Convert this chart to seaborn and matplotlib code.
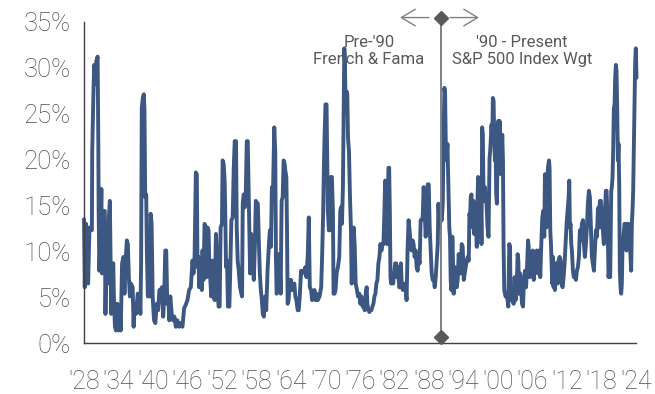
import matplotlib
matplotlib.use("Agg")
import matplotlib.pyplot as plt
import seaborn as sns
import pandas as pd

# ---- data ----
years_a = [1928.00, 1928.13, 1928.36, 1928.72, 1928.95, 1929.37, 1929.43, 1929.66, 1929.78, 1930.02,
           1930.14, 1930.37, 1930.49, 1930.55, 1930.67, 1930.84, 1931.02, 1931.14, 1931.26, 1931.43,
           1931.61, 1931.73, 1931.91, 1932.14, 1932.32, 1932.50, 1932.62, 1932.73, 1932.91, 1933.09,
           1933.20, 1933.38, 1933.56, 1933.80, 1933.97, 1934.21, 1934.39, 1934.62, 1934.86, 1935.04,
           1935.21, 1935.45, 1935.63, 1935.80, 1935.98, 1936.16, 1936.46, 1936.63, 1936.75, 1937.05,
           1937.34, 1937.64, 1937.81, 1937.93, 1938.05, 1938.23, 1938.40, 1938.52, 1938.64, 1938.82,
           1938.94, 1939.11, 1939.29, 1939.47, 1939.59, 1939.76, 1939.94, 1940.18, 1940.41, 1940.65,
           1940.89, 1941.12, 1941.36, 1941.54, 1941.77, 1941.95, 1942.13, 1942.30, 1942.48, 1942.66,
           1942.83, 1943.01, 1943.25, 1943.48, 1943.72, 1943.96, 1944.13]
values_a = [13.5, 6.1, 13.0, 6.5, 12.6, 12.3, 20.9, 27.8, 30.3, 28.2,
            30.7, 31.2, 21.7, 14.4, 7.9, 10.8, 16.8, 7.6, 10.8, 14.4,
            14.4, 3.2, 10.1, 6.5, 13.7, 15.5, 9.0, 3.2, 7.9, 8.7,
            5.1, 1.8, 1.4, 4.3, 1.4, 3.6, 1.4, 8.7, 9.4, 5.4,
            8.7, 11.2, 10.8, 7.2, 5.1, 6.5, 6.1, 1.8, 4.3, 3.2,
            5.4, 5.1, 3.2, 8.7, 25.6, 26.7, 27.1, 25.3, 15.9, 16.2,
            9.7, 5.1, 10.8, 5.1, 14.1, 13.0, 5.1, 2.5, 2.2, 4.3,
            3.6, 5.8, 5.8, 6.1, 2.9, 5.1, 10.1, 10.1, 4.3, 5.1,
            2.5, 5.1, 3.2, 2.5, 2.9, 1.8, 2.5]

years_b = [1944.24, 1944.54, 1944.83, 1945.12, 1945.41, 1945.70, 1945.99, 1946.28, 1946.58, 1946.87,
           1947.04, 1947.22, 1947.45, 1947.62, 1947.74, 1947.92, 1948.03, 1948.32, 1948.50, 1948.61,
           1948.79, 1948.96, 1949.20, 1949.31, 1949.49, 1949.66, 1949.78, 1949.96, 1950.13, 1950.36,
           1950.54, 1950.71, 1950.95, 1951.12, 1951.24, 1951.41, 1951.59, 1951.76, 1951.99, 1952.11,
           1952.29, 1952.46, 1952.58, 1952.70, 1952.87, 1953.04, 1953.28, 1953.45, 1953.63, 1953.86,
           1954.03, 1954.21, 1954.44, 1954.56, 1954.73, 1954.91, 1955.14, 1955.37, 1955.49, 1955.61,
           1955.78, 1955.96, 1956.13, 1956.31, 1956.48, 1956.66, 1956.89, 1957.06, 1957.24, 1957.36,
           1957.53, 1957.71, 1957.88, 1958.06, 1958.23, 1958.40, 1958.58, 1958.75, 1958.93, 1959.10,
           1959.28]
values_b = [2.5, 1.8, 2.2, 1.8, 3.8, 4.2, 4.7, 5.8, 6.1, 9.0,
            7.6, 9.0, 18.6, 18.4, 8.3, 9.4, 6.1, 9.0, 5.8, 10.1,
            6.9, 13.0, 12.6, 7.2, 12.6, 12.3, 9.0, 6.9, 5.1, 9.0,
            5.4, 4.7, 11.9, 9.4, 5.4, 4.0, 4.0, 12.6, 13.0, 19.9,
            19.5, 17.7, 13.7, 8.3, 9.0, 4.0, 4.0, 8.3, 13.4, 13.7,
            18.8, 22.0, 22.0, 12.6, 9.0, 7.9, 6.1, 5.4, 5.1, 15.2,
            16.2, 14.8, 16.2, 22.0, 22.0, 15.5, 7.6, 11.9, 11.2, 9.0,
            6.9, 10.5, 15.5, 15.3, 15.2, 11.2, 7.6, 5.8, 4.7, 3.2,
            2.9]

years_c = [1959.51, 1959.69, 1959.92, 1960.16, 1960.33, 1960.51, 1960.68, 1960.86, 1961.09, 1961.26,
           1961.38, 1961.50, 1961.67, 1961.85, 1962.02, 1962.20, 1962.37, 1962.55, 1962.72, 1962.90,
           1963.01, 1963.19, 1963.30, 1963.42, 1963.59, 1963.77, 1964.00, 1964.18, 1964.35, 1964.58,
           1964.76, 1964.93, 1965.17, 1965.34, 1965.52, 1965.75, 1965.93, 1966.10, 1966.33, 1966.51,
           1966.68, 1966.92, 1967.09, 1967.27, 1967.50, 1967.67, 1967.85, 1968.08, 1968.26, 1968.43,
           1968.66, 1968.96, 1969.25, 1969.42, 1969.60, 1969.71, 1969.83, 1970.00, 1970.18, 1970.30,
           1970.41, 1970.59, 1970.76, 1970.94, 1971.11, 1971.29, 1971.40, 1971.58, 1971.75, 1971.93,
           1972.16, 1972.39, 1972.57, 1972.69, 1972.86, 1973.03, 1973.15, 1973.27, 1973.38, 1973.50,
           1973.68, 1973.79, 1973.91, 1974.08, 1974.26, 1974.43, 1974.55, 1974.72, 1974.90, 1975.07,
           1975.25]
values_c = [5.1, 3.6, 7.9, 10.8, 12.3, 10.5, 17.0, 16.2, 23.5, 20.9,
            9.4, 5.4, 5.8, 9.7, 9.4, 5.4, 15.5, 15.9, 19.9, 19.5,
            18.8, 18.1, 12.6, 4.3, 4.7, 6.9, 6.9, 5.8, 5.8, 6.5,
            5.1, 4.7, 3.6, 3.6, 5.1, 7.9, 7.6, 7.9, 7.9, 8.3,
            7.2, 9.7, 13.7, 6.1, 5.8, 4.7, 5.4, 5.8, 4.7, 5.4,
            4.7, 5.1, 6.1, 9.7, 14.4, 18.8, 22.4, 26.0, 26.0, 20.2,
            14.4, 12.3, 12.3, 18.1, 18.1, 14.4, 5.4, 5.4, 5.8, 7.6,
            8.3, 9.4, 14.4, 14.8, 13.0, 17.0, 24.5, 32.1, 30.7, 25.3,
            27.4, 27.1, 22.4, 20.9, 15.9, 12.3, 6.5, 9.4, 12.6, 10.8,
            6.5]

years_d = [1975.47, 1975.65, 1975.88, 1976.06, 1976.23, 1976.47, 1976.64, 1976.82, 1976.99, 1977.16,
           1977.28, 1977.46, 1977.63, 1977.81, 1977.98, 1978.16, 1978.33, 1978.51, 1978.68, 1978.85,
           1979.03, 1979.20, 1979.38, 1979.55, 1979.73, 1979.90, 1980.08, 1980.25, 1980.37, 1980.49,
           1980.60, 1980.72, 1980.84, 1980.95, 1981.07, 1981.19, 1981.30, 1981.42, 1981.59, 1981.77,
           1981.94, 1982.12, 1982.29, 1982.47, 1982.64, 1982.82, 1982.93, 1983.11, 1983.28, 1983.46,
           1983.63, 1983.81, 1983.92, 1984.10, 1984.27, 1984.45, 1984.62, 1984.80, 1984.97, 1985.15,
           1985.32, 1985.50, 1985.67, 1985.85, 1986.02, 1986.20, 1986.37, 1986.55, 1986.72, 1986.90,
           1987.07, 1987.25, 1987.42, 1987.60, 1987.77, 1987.95, 1988.12, 1988.30, 1988.47, 1988.64,
           1988.82, 1988.99, 1989.17, 1989.34, 1989.52, 1989.64, 1989.75, 1989.87, 1990.04, 1990.22,
           1990.39, 1990.57, 1990.68, 1990.80, 1990.92, 1991.03, 1991.21]
values_d = [5.8, 5.1, 5.4, 4.3, 5.1, 4.0, 4.3, 3.6, 5.4, 6.1,
            4.3, 3.6, 3.4, 3.6, 3.6, 4.0, 4.3, 5.1, 5.4, 6.5,
            6.9, 8.7, 9.4, 10.8, 10.1, 10.8, 10.8, 14.4, 17.7, 17.3,
            14.4, 10.8, 15.9, 19.1, 19.1, 14.4, 7.2, 6.5, 7.2, 6.5,
            7.6, 8.7, 8.7, 7.2, 8.3, 6.1, 6.1, 8.7, 6.1, 5.8,
            6.1, 6.5, 6.1, 4.7, 10.1, 13.4, 12.3, 10.8, 10.1, 11.2,
            10.8, 9.4, 10.1, 8.3, 7.9, 9.4, 8.7, 13.4, 13.4, 13.7,
            17.0, 14.4, 11.6, 13.4, 17.3, 17.3, 12.6, 10.1, 7.6, 6.9,
            7.2, 6.1, 7.2, 9.0, 10.8, 15.2, 13.7, 12.6, 13.7, 13.4,
            15.2, 23.8, 27.8, 27.1, 21.7, 19.9, 21.7]

years_e = [1991.53, 1991.65, 1991.77, 1991.88, 1992.06, 1992.17, 1992.29, 1992.47, 1992.64, 1992.82,
           1992.99, 1993.16, 1993.34, 1993.51, 1993.69, 1993.86, 1994.04, 1994.21, 1994.39, 1994.56,
           1994.74, 1994.91, 1995.03, 1995.15, 1995.26, 1995.38, 1995.50, 1995.61, 1995.73, 1995.85,
           1995.96, 1996.14, 1996.31, 1996.43, 1996.54, 1996.66, 1996.78, 1996.89, 1997.01, 1997.13,
           1997.24, 1997.36, 1997.48, 1997.59, 1997.71, 1997.83, 1998.00, 1998.18, 1998.35, 1998.53,
           1998.64, 1998.76, 1998.88, 1999.00, 1999.11, 1999.23, 1999.34, 1999.46, 1999.58, 1999.69,
           1999.81, 1999.92, 2000.04, 2000.16, 2000.27, 2000.39, 2000.51, 2000.62, 2000.74, 2000.86,
           2000.97, 2001.09, 2001.21, 2001.32, 2001.50, 2001.67, 2001.79, 2001.96, 2002.08, 2002.20,
           2002.37, 2002.55, 2002.72, 2002.90, 2003.07, 2003.25, 2003.42, 2003.54, 2003.65, 2003.83,
           2004.00, 2004.18, 2004.35, 2004.53, 2004.70, 2004.88, 2005.05, 2005.23, 2005.34, 2005.52,
           2005.69, 2005.87, 2006.04, 2006.22, 2006.39, 2006.57, 2006.74, 2006.92, 2007.09]
values_e = [12.6, 11.6, 6.9, 5.8, 11.6, 9.0, 5.4, 8.3, 7.6, 6.1,
            6.9, 9.7, 8.7, 7.6, 10.8, 10.5, 6.9, 7.6, 8.3, 9.0,
            9.4, 9.0, 14.1, 13.7, 15.9, 16.2, 14.1, 12.6, 15.5, 11.9,
            14.8, 13.7, 10.5, 15.5, 18.1, 17.3, 12.6, 11.9, 16.2, 10.8,
            23.5, 22.7, 16.2, 15.5, 17.0, 15.9, 15.2, 12.6, 11.6, 20.2,
            20.9, 22.4, 23.8, 22.0, 26.7, 26.4, 22.7, 19.9, 21.3, 16.2,
            15.2, 20.6, 24.2, 22.0, 24.2, 22.4, 18.4, 19.9, 22.7, 19.9,
            10.5, 5.8, 5.4, 5.1, 5.4, 4.7, 4.0, 10.8, 10.5, 4.7,
            5.4, 4.7, 4.3, 7.2, 4.7, 6.1, 9.7, 9.0, 5.4, 7.6,
            6.1, 4.3, 4.0, 7.2, 7.9, 6.1, 8.3, 11.2, 10.5, 7.2,
            9.7, 8.3, 10.1, 6.9, 9.7, 9.0, 10.1, 7.6, 9.7]

years_f = [2007.18, 2007.35, 2007.53, 2007.70, 2007.87, 2008.05, 2008.16, 2008.28, 2008.40, 2008.51,
           2008.69, 2008.86, 2008.97, 2009.09, 2009.21, 2009.32, 2009.44, 2009.55, 2009.67, 2009.79,
           2009.90, 2010.02, 2010.19, 2010.36, 2010.54, 2010.71, 2010.89, 2011.06, 2011.23, 2011.41,
           2011.58, 2011.75, 2011.93, 2012.10, 2012.28, 2012.39, 2012.51, 2012.62, 2012.74, 2012.85,
           2013.03, 2013.20, 2013.38, 2013.55, 2013.72, 2013.90, 2014.07, 2014.24, 2014.42, 2014.59,
           2014.77, 2014.94, 2015.11, 2015.29, 2015.46, 2015.63, 2015.81, 2015.98, 2016.16, 2016.33,
           2016.50, 2016.68, 2016.85, 2017.02, 2017.20, 2017.37, 2017.49, 2017.60, 2017.72, 2017.89,
           2018.07, 2018.24, 2018.41, 2018.59, 2018.76, 2018.88, 2019.05, 2019.22, 2019.34, 2019.51,
           2019.69, 2019.80, 2019.92, 2020.03, 2020.15, 2020.27, 2020.38, 2020.50, 2020.61, 2020.73,
           2020.85, 2020.96, 2021.08, 2021.19, 2021.31, 2021.42, 2021.54, 2021.66, 2021.83, 2022.00,
           2022.18, 2022.35, 2022.52, 2022.70, 2022.81, 2022.99, 2023.16, 2023.28, 2023.39, 2023.51,
           2023.62, 2023.74, 2023.86, 2023.97, 2024.09]
values_f = [10.1, 7.2, 10.8, 13.7, 14.4, 11.6, 18.4, 15.2, 12.6, 16.6,
            19.1, 19.9, 19.1, 12.3, 10.8, 8.7, 6.5, 9.4, 6.1, 7.9,
            5.8, 8.7, 8.7, 6.5, 9.0, 9.4, 9.0, 6.5, 6.1, 7.2,
            8.7, 10.8, 13.0, 14.4, 15.9, 17.7, 12.6, 13.0, 10.8, 10.1,
            7.9, 7.2, 7.2, 6.9, 7.9, 8.3, 9.4, 12.3, 11.2, 13.0,
            13.4, 10.8, 9.4, 10.8, 12.6, 15.2, 16.6, 15.9, 12.6, 9.4,
            8.7, 7.9, 10.1, 12.3, 11.6, 14.4, 14.8, 12.6, 15.5, 15.5,
            13.4, 12.3, 10.8, 14.1, 16.6, 16.6, 13.7, 7.2, 7.9, 7.2,
            16.6, 17.0, 18.1, 20.9, 25.6, 26.0, 28.9, 30.3, 29.6, 25.6,
            19.9, 21.7, 17.3, 7.9, 6.1, 5.4, 6.5, 10.8, 11.6, 13.0,
            13.0, 10.1, 13.0, 13.0, 10.8, 10.1, 7.9, 13.0, 14.4, 16.6,
            20.9, 26.0, 30.7, 32.1, 28.9]

tick_years = list(range(1928, 2025, 6))
tick_labels = ["'28", "'34", "'40", "'46", "'52", "'58", "'64", "'70", "'76", "'82",
               "'88", "'94", "'00", "'06", "'12", "'18", "'24"]
y_ticks = [0, 5, 10, 15, 20, 25, 30, 35]
split_year = 1990
left_label = "Pre-'90\nFrench & Fama"
right_label = "'90 - Present\nS&P 500 Index Wgt"

df = pd.DataFrame({
    "year": years_a + years_b + years_c + years_d + years_e + years_f,
    "value": values_a + values_b + values_c + values_d + values_e + values_f,
})

# ---- style ----
sns.set_style("white")
plt.rcParams["font.family"] = ["Roboto", "DejaVu Sans"]

W, H = 655, 394
fig = plt.figure(figsize=(W / 100, H / 100), dpi=100)
ax = fig.add_axes([84 / W, 1 - 343.3 / H, (636 - 84) / W, (343.3 - 21.7) / H])

line_color = "#3C5782"
sns.lineplot(data=df, x="year", y="value", ax=ax, color=line_color,
             linewidth=2.8, sort=False, clip_on=False)

ax.set_xlim(1928, 2024)
ax.set_ylim(0, 35)
ax.set_xticks(tick_years)
ax.set_xticklabels(tick_labels)
ax.set_yticks(y_ticks)
ax.set_yticklabels([f"{v}%" for v in y_ticks])
ax.set_xlabel("")
ax.set_ylabel("")

for s in ["top", "right"]:
    ax.spines[s].set_visible(False)
for s in ["left", "bottom"]:
    ax.spines[s].set_color("#404040")
    ax.spines[s].set_linewidth(1.0)

ax.tick_params(axis="y", direction="out", length=6.5, width=1.0, color="#404040",
               pad=3, labelsize=18.5, labelcolor="#4D4D4D")
ax.tick_params(axis="x", direction="out", length=6, width=1.0, color="#404040",
               pad=13, labelsize=18, labelcolor="#4D4D4D")
for lab in ax.get_xticklabels() + ax.get_yticklabels():
    lab.set_fontweight("light")

# divider line with diamonds
top_y, bot_y = 35.45, 0.68
ax.plot([split_year, split_year], [bot_y, top_y], color="#808080", lw=1.4,
        clip_on=False, zorder=4)
ax.plot([split_year, split_year], [bot_y, top_y], ls="none", marker="D", ms=7,
        color="#595959", clip_on=False, zorder=5)

arrow_kw = dict(arrowstyle="->,head_length=0.5,head_width=0.3", color="#808080",
                lw=1.0, mutation_scale=20, shrinkA=0, shrinkB=0)
ax.annotate("", xy=(1982.96, top_y), xytext=(1988.0, top_y), arrowprops=arrow_kw,
            annotation_clip=False)
ax.annotate("", xy=(1996.7, top_y), xytext=(1991.65, top_y), arrowprops=arrow_kw,
            annotation_clip=False)

ax.text(1977.56, 31.8, left_label, ha="center", va="center", fontsize=12,
        color="#595959", linespacing=1.15)
ax.text(2004.17, 31.8, right_label, ha="center", va="center", fontsize=12,
        color="#595959", linespacing=1.15)

fig.savefig("out.png", dpi=100)
